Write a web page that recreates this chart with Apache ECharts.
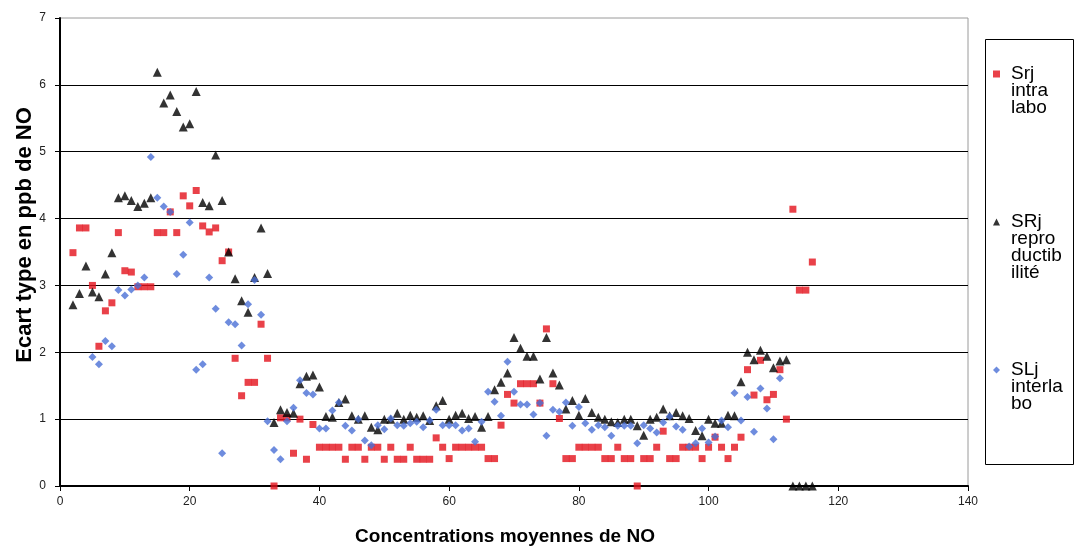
<!DOCTYPE html>
<html>
<head>
<meta charset="utf-8">
<script src="https://cdn.jsdelivr.net/npm/echarts@6/dist/echarts.min.js"></script>
<style>
html,body{margin:0;padding:0;background:#fff;}
#c{width:1076px;height:553px;}
</style>
</head>
<body>
<div id="c"></div>
<script>
// Concentrations moyennes de NO (x)
const xValues = [2,3,4,5,6,7,8,9,10,11,12,13,14,15,16,17,18,19,20,21,22,23,24,25,26,27,28,29,30,31,32,33,34,35,36,37,38,39,40,41,42,43,44,45,46,47,48,49,50,51,52,53,54,55,56,57,58,59,60,61,62,63,64,65,66,67,68,69,70,71,72,73,74,75,76,77,78,79,80,81,82,83,84,85,86,87,88,89,90,91,92,93,94,95,96,97,98,99,100,101,102,103,104,105,106,107,108,109,110,111,112,113,114,115,116];
// Srj intra labo
const srjIntra = [3.49,3.86,3.86,3.0,2.09,2.62,2.74,3.79,3.22,3.2,2.98,2.98,2.98,3.79,3.79,4.1,3.79,4.34,4.19,4.42,3.89,3.8,3.86,3.37,3.5,1.91,1.35,1.55,1.55,2.42,1.91,0,1.02,1.02,0.49,1.0,0.4,0.92,0.58,0.58,0.58,0.58,0.4,0.58,0.58,0.4,0.58,0.58,0.4,0.58,0.4,0.4,0.58,0.4,0.4,0.4,0.72,0.58,0.41,0.58,0.58,0.58,0.58,0.58,0.41,0.41,0.91,1.37,1.24,1.53,1.53,1.53,1.24,2.35,1.53,1.01,0.41,0.41,0.58,0.58,0.58,0.58,0.41,0.41,0.58,0.41,0.41,0,0.41,0.41,0.58,0.82,0.41,0.41,0.58,0.58,0.58,0.41,0.58,0.73,0.58,0.41,0.58,0.73,1.74,1.36,1.88,1.29,1.37,1.74,1.0,4.14,2.93,2.93,3.35];
// SRj reproductibilité
const srjRepro = [2.71,2.88,3.29,2.9,2.83,3.17,3.49,4.31,4.34,4.27,4.18,4.23,4.31,6.19,5.73,5.85,5.6,5.37,5.42,5.9,4.24,4.19,4.95,4.27,3.5,3.1,2.77,2.6,3.12,3.86,3.18,0.95,1.14,1.1,1.09,1.53,1.64,1.66,1.48,1.04,1.03,1.25,1.3,1.05,1.0,1.05,0.88,0.84,1.0,1.0,1.09,1.0,1.06,1.03,1.05,0.98,1.2,1.28,1.0,1.06,1.09,1.01,1.04,0.88,1.04,1.44,1.55,1.69,2.22,2.06,1.94,1.94,1.6,2.22,1.69,1.51,1.15,1.28,1.06,1.31,1.1,1.03,1.0,0.96,0.95,1.0,1.0,0.9,0.76,1.0,1.03,1.15,1.05,1.1,1.05,1.01,0.83,0.75,1.0,0.94,0.94,1.06,1.05,1.56,2.0,1.89,2.03,1.94,1.77,1.87,1.89,0,0,0,0];
// SLj interlabo
const slInter = [null,null,null,1.93,1.82,2.17,2.09,2.93,2.85,2.94,3.0,3.12,4.92,4.31,4.18,4.1,3.17,3.46,3.94,1.74,1.82,3.12,2.65,0.49,2.45,2.42,2.1,2.72,3.08,2.56,0.97,0.54,0.4,0.97,1.17,1.58,1.39,1.37,0.86,0.86,1.13,1.25,0.9,0.83,1.0,0.68,0.61,0.91,0.85,1.01,0.91,0.9,0.94,0.96,0.88,0.98,1.14,0.91,0.91,0.91,0.83,0.86,0.66,0.96,1.41,1.26,1.05,1.86,1.41,1.22,1.22,1.07,1.24,0.75,1.14,1.11,1.25,0.9,1.18,0.94,0.84,0.91,0.88,0.75,0.9,0.9,0.9,0.64,0.91,0.86,0.8,0.95,1.04,0.89,0.84,0.59,0.64,0.86,0.65,0.74,0.98,0.88,1.39,0.98,1.33,0.81,1.46,1.16,0.7,1.61,null,null,null,null,null];

const seriesNames = ['Srj intra labo', 'SRj reproductibilité', 'SLj interlabo'];
const legendLabels = ['Srj\nintra\nlabo', 'SRj\nrepro\nductib\nilité', 'SLj\ninterla\nbo'];
const xTicks = {min: 0, max: 140, interval: 20};
const yTicks = {min: 0, max: 7, interval: 1};

function pairs(ys) {
  const out = [];
  for (let i = 0; i < xValues.length; i++) {
    if (ys[i] !== null && ys[i] !== undefined) out.push([xValues[i], ys[i]]);
  }
  return out;
}

// Leading blank lines so that the legend marker sits beside the first line of each label
function legendText(label) {
  const n = label.split('\n').length;
  return '\n'.repeat(n - 1) + label;
}

const chart = echarts.init(document.getElementById('c'), null, {renderer: 'canvas'});
const font = 'Liberation Sans, Arial, sans-serif';
chart.setOption({
  animation: false,
  backgroundColor: '#fff',
  grid: {left: 60, right: 108, top: 18, bottom: 67, show: true, borderColor: '#9a9a9a', borderWidth: 1},
  xAxis: {
    type: 'value', min: xTicks.min, max: xTicks.max, interval: xTicks.interval,
    name: 'Concentrations moyennes de NO', nameLocation: 'middle', nameGap: 41,
    nameTextStyle: {fontFamily: font, fontWeight: 'bold', fontSize: 19, color: '#000', padding: [0, 18, 0, 0]},
    axisLine: {show: true, onZero: false, lineStyle: {color: '#000', width: 2}},
    axisTick: {show: true, length: 5, lineStyle: {color: '#000', width: 1}},
    axisLabel: {fontFamily: font, fontSize: 12, color: '#222', margin: 10},
    splitLine: {show: false}
  },
  yAxis: {
    type: 'value', min: yTicks.min, max: yTicks.max, interval: yTicks.interval,
    name: 'Ecart type en ppb de NO', nameLocation: 'middle', nameGap: 24, nameMoveOverlap: false,
    nameTextStyle: {fontFamily: font, fontWeight: 'bold', fontSize: 22, color: '#000', padding: [0, 0, 0, 34]},
    axisLine: {show: true, onZero: false, lineStyle: {color: '#000', width: 2}},
    axisTick: {show: true, length: 5, lineStyle: {color: '#000', width: 1}},
    axisLabel: {fontFamily: font, fontSize: 12, color: '#222', margin: 14},
    splitLine: {show: true, showMinLine: false, showMaxLine: false, lineStyle: {color: '#000', width: 1}}
  },
  legend: {
    orient: 'vertical', left: 993, top: 30.5, padding: 0, itemGap: 44,
    itemWidth: 7, itemHeight: 7,
    textStyle: {fontFamily: font, fontSize: 19, lineHeight: 17, color: '#000', padding: [0, 0, 0, 6]},
    formatter: function (name) { return legendText(legendLabels[seriesNames.indexOf(name)]); },
    data: seriesNames
  },
  graphic: [{
    type: 'rect', z: -1,
    shape: {x: 985.5, y: 39.5, width: 88, height: 425},
    style: {fill: 'none', stroke: '#000', lineWidth: 1}
  }],
  series: [
    {name: seriesNames[0], type: 'scatter', symbol: 'rect', symbolSize: 7, z: 2,
     itemStyle: {color: '#e3121b'}, data: pairs(srjIntra)},
    {name: seriesNames[1], type: 'scatter', symbol: 'triangle', symbolSize: 9, z: 3,
     itemStyle: {color: '#000'}, data: pairs(srjRepro)},
    {name: seriesNames[2], type: 'scatter', symbol: 'diamond', symbolSize: 8, z: 4,
     itemStyle: {color: '#4a6fd6'}, data: pairs(slInter)}
  ]
});
</script>
</body>
</html>
